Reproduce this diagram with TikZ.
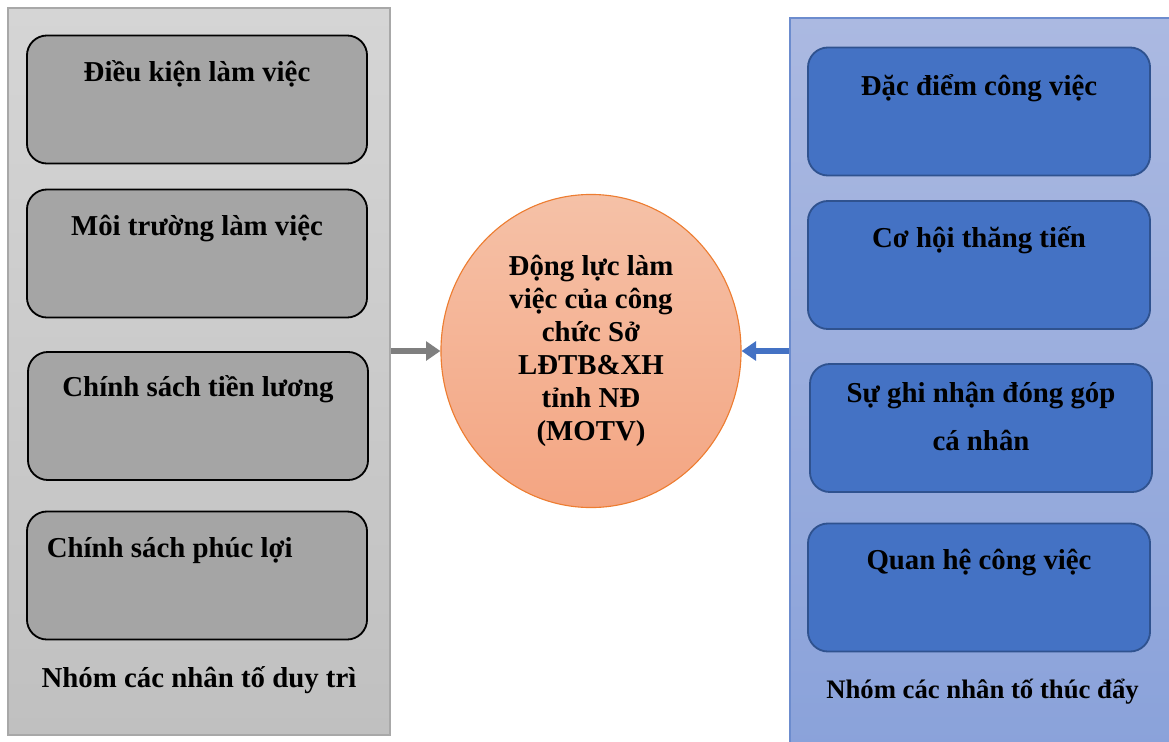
\documentclass[tikz,border=0pt]{standalone}
\usepackage{fontspec}
\setmainfont{Liberation Serif}
\usepackage{tikz}
\usetikzlibrary{positioning,arrows.meta,shapes.geometric,calc}
\definecolor{graytop}{RGB}{213,213,213}
\definecolor{graybot}{RGB}{192,192,192}
\definecolor{grayline}{RGB}{168,168,168}
\definecolor{boxgray}{RGB}{165,165,165}
\definecolor{bluetop}{RGB}{171,185,225}
\definecolor{bluebot}{RGB}{138,162,218}
\definecolor{blueline}{RGB}{108,140,206}
\definecolor{boxblue}{RGB}{68,114,196}
\definecolor{boxblueline}{RGB}{47,82,143}
\definecolor{motvtop}{RGB}{245,193,167}
\definecolor{motvbot}{RGB}{244,165,130}
\definecolor{motvline}{RGB}{237,125,49}
\definecolor{arrowgray}{RGB}{127,127,127}
\tikzset{
  gpanel/.style = {draw=grayline, line width=1pt, top color=graytop, bottom color=graybot, minimum width=9.55cm, minimum height=18.175cm},
  bpanel/.style = {draw=blueline, line width=1.4pt, top color=bluetop, bottom color=bluebot, minimum width=9.625cm, minimum height=18.3cm},
  gbox/.style   = {draw=black, line width=1.3pt, rounded corners=0.5cm, fill=boxgray, minimum width=8.5cm, minimum height=3.2cm},
  bbox/.style   = {draw=boxblueline, line width=1.3pt, rounded corners=0.5cm, fill=boxblue, minimum width=8.55cm, minimum height=3.2cm},
  txt/.style    = {font=\bfseries\fontsize{20.5}{23.5}\selectfont, inner sep=0pt, anchor=base, align=center},
  motv/.style   = {ellipse, draw=motvline, line width=0.8pt, top color=motvtop, bottom color=motvbot, minimum width=7.5cm, minimum height=7.825cm, inner sep=0pt, align=center, font=\bfseries\fontsize{20.5}{23.5}\selectfont},
  flow/.style   = {-{Triangle[length=0.36cm, width=0.47cm]}, line width=4.3pt},
}
\begin{document}
\begin{tikzpicture}[x=0.025cm, y=-0.025cm]
  \useasboundingbox (0,0) rectangle (1169,742);
  % left group
  \node[gpanel, label={[txt, yshift=1.2cm]south:Nhóm các nhân tố duy trì}] (duytri) at (199,371.5) {};
  \node[gbox, label={[txt, yshift=-1.175cm]north:Điều kiện làm việc}] (dk) at (197,99.5) {};
  \node[gbox, label={[txt, yshift=-1.17cm]north:Môi trường làm việc}] (mt) at (197,253.5) {};
  \node[gbox, label={[txt, yshift=-1.145cm]north:Chính sách tiền lương}] (tl) at (198,416) {};
  \node[gbox, label={[txt, yshift=-1.17cm, xshift=-0.68cm]north:Chính sách phúc lợi}] (pl) at (197,575.5) {};
  % right group
  \node[bpanel, label={[txt, yshift=1.32cm, font=\bfseries\fontsize{19}{23}\selectfont]south:Nhóm các nhân tố thúc đẩy}] (thucday) at (982.5,384) {};
  \node[bbox, label={[txt, yshift=-1.225cm]north:Đặc điểm công việc}] (dd) at (979,111.5) {};
  \node[bbox, label={[txt, yshift=-1.175cm]north:Cơ hội thăng tiến}] (ch) at (979,265) {};
  \node[bbox, label={[txt, yshift=-2.175cm]north:Sự ghi nhận đóng góp\\[10pt]cá nhân}] (gn) at (981,428) {};
  \node[bbox, label={[txt, yshift=-1.17cm]north:Quan hệ công việc}] (qh) at (979,587.5) {};
  % centre
  \node[motv] (dl) at (591,351) {Động lực làm\\việc của công\\chức Sở\\LĐTB\&XH\\tỉnh NĐ\\(MOTV)};
  \draw[flow, draw=arrowgray, fill=arrowgray] (duytri.east |- dl.west) -- (dl.west);
  \draw[flow, draw=boxblue, fill=boxblue] (thucday.west |- dl.east) -- (dl.east);
\end{tikzpicture}
\end{document}
